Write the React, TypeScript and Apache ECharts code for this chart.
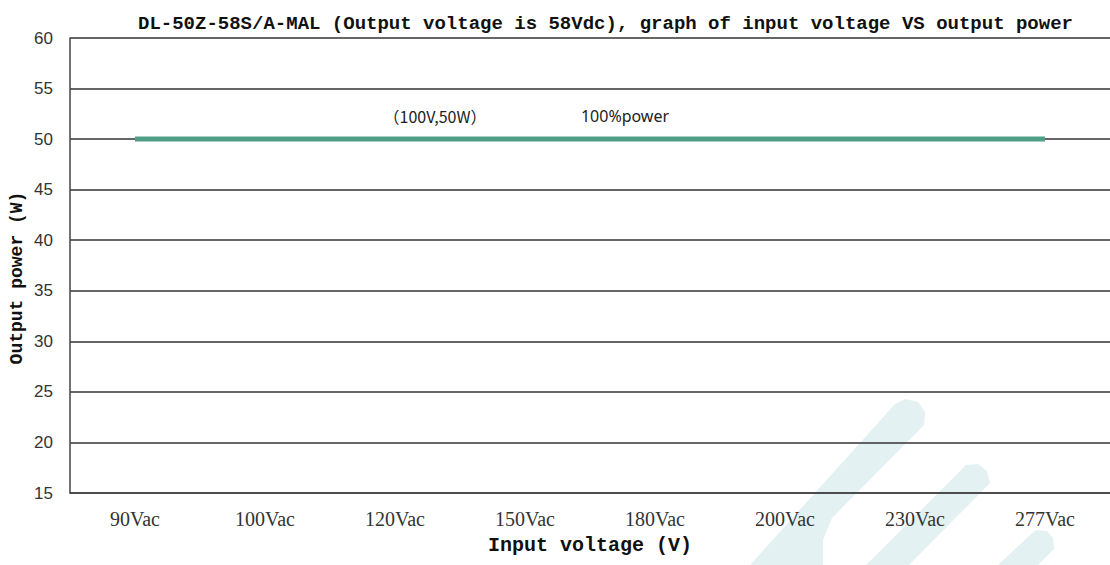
import React, { useEffect, useRef } from "react";
import * as echarts from "echarts";

const categories = ["90Vac", "100Vac", "120Vac", "150Vac", "180Vac", "200Vac", "230Vac", "277Vac"];
const outputPower = [50, 50, 50, 50, 50, 50, 50, 50];
const yTicks = { min: 15, max: 60, interval: 5 };
const titleText = "DL-50Z-58S/A-MAL (Output voltage is 58Vdc), graph of input voltage VS output power";
const xName = "Input voltage (V)";
const yName = "Output power (W)";
const annoPoint = "（100V,50W）";
const annoLabel = "100%power";

const wmColor = "#e3f1f2";

export default function App() {
  const ref = useRef<HTMLDivElement>(null);
  useEffect(() => {
    if (!ref.current) return;
    const chart = echarts.init(ref.current, undefined, { renderer: "svg" });
    chart.setOption({
      animation: false,
      backgroundColor: "#ffffff",
      title: {
        text: titleText,
        left: 133,
        top: 9,
        textStyle: {
          fontFamily: "Liberation Mono",
          fontWeight: "bold",
          fontSize: 19,
          color: "#111",
        },
      },
      grid: { left: 70, top: 38, width: 1045, height: 455, containLabel: false },
      xAxis: {
        type: "category",
        data: categories,
        boundaryGap: true,
        name: xName,
        nameLocation: "middle",
        nameGap: 42,
        nameTextStyle: {
          fontFamily: "Liberation Mono",
          fontWeight: "bold",
          fontSize: 20,
          color: "#111",
        },
        axisLine: { show: true, lineStyle: { color: "#444", width: 1.5 } },
        axisTick: { show: false },
        axisLabel: {
          margin: 16,
          fontFamily: "Liberation Serif",
          fontSize: 20,
          color: "#333",
        },
        splitLine: { show: false },
      },
      yAxis: {
        type: "value",
        min: yTicks.min,
        max: yTicks.max,
        interval: yTicks.interval,
        axisLine: { show: true, lineStyle: { color: "#444", width: 1.5 } },
        axisTick: { show: false },
        axisLabel: {
          margin: 17,
          fontFamily: "Liberation Sans",
          fontSize: 17,
          color: "#333",
        },
        splitLine: { show: true, lineStyle: { color: "#333", width: 1.5 } },
      },
      graphic: [
        {
          type: "polygon",
          z: -10,
          silent: true,
          shape: {
            points: [
              [895, 404], [905, 399], [918, 402], [925, 412], [924, 425],
              [832, 518], [823, 540], [823, 565], [750, 565],
            ],
          },
          style: { fill: wmColor },
        },
        {
          type: "polygon",
          z: -10,
          silent: true,
          shape: {
            points: [
              [958, 473], [966, 465], [978, 464], [987, 471], [990, 483],
              [909, 565], [866, 565],
            ],
          },
          style: { fill: wmColor },
        },
        {
          type: "polygon",
          z: -10,
          silent: true,
          shape: {
            points: [
              [1028, 537], [1036, 530], [1047, 531], [1053, 538], [1054, 549],
              [1038, 565], [998, 565],
            ],
          },
          style: { fill: wmColor },
        },
        {
          type: "text",
          x: 17,
          y: 278,
          rotation: Math.PI / 2,
          style: {
            text: yName,
            fontFamily: "Liberation Mono",
            fontWeight: "bold",
            fontSize: 18,
            fill: "#111",
            textAlign: "center",
            textVerticalAlign: "middle",
          },
        },
        {
          type: "text",
          x: 435,
          y: 116,
          style: {
            text: annoPoint,
            fontFamily: "Noto Sans CJK SC",
            fontSize: 16,
            fill: "#222",
            textAlign: "center",
            textVerticalAlign: "middle",
          },
        },
        {
          type: "text",
          x: 625,
          y: 116,
          style: {
            text: annoLabel,
            fontFamily: "Noto Sans",
            fontSize: 16,
            fill: "#222",
            textAlign: "center",
            textVerticalAlign: "middle",
          },
        },
      ],
      series: [
        {
          type: "line",
          data: outputPower,
          symbol: "none",
          lineStyle: { color: "#4f9e86", width: 5 },
          z: 3,
        },
      ],
    });
    return () => chart.dispose();
  }, []);
  return (
    <div
      ref={ref}
      style={{ position: "absolute", left: 0, top: 0, width: 1110, height: 565 }}
    />
  );
}
